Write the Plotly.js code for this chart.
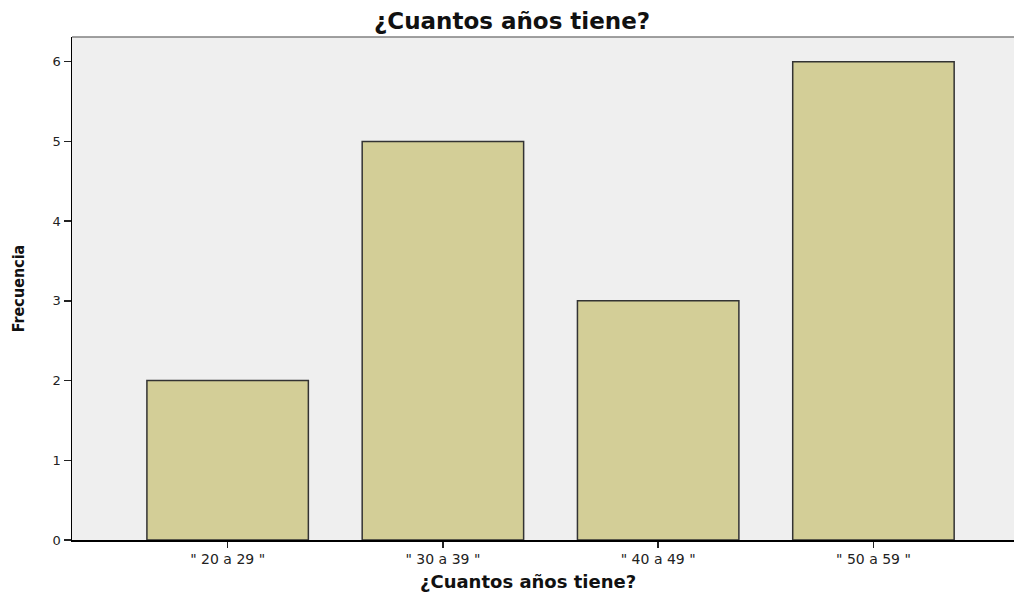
<!DOCTYPE html>
<html><head><meta charset="utf-8">
<script src="https://cdn.plot.ly/plotly-3.0.1.min.js"></script>
<style>html,body{margin:0;padding:0;background:#fff}</style>
</head><body>
<div id="chart" style="width:1014px;height:596px"></div>
<script>
const categories = ['" 20 a 29 "', '" 30 a 39 "', '" 40 a 49 "', '" 50 a 59 "'];
const frecuencia = [2, 5, 3, 6];
const yTicks = [0, 1, 2, 3, 4, 5, 6];
const titleText = '¿Cuantos años tiene?';

const trace = {
  type: 'bar',
  x: categories,
  y: frecuencia,
  width: 0.75,
  marker: {color: '#D3CE97', line: {color: '#333333', width: 1.5}},
  hoverinfo: 'x+y'
};

const layout = {
  width: 1014, height: 596,
  margin: {l: 72, r: 0, t: 37, b: 56},
  paper_bgcolor: '#ffffff',
  plot_bgcolor: '#EFEFEF',
  showlegend: false,
  title: {text: titleText, x: 0.505, xanchor: 'center', y: 0.965, yanchor: 'middle',
          font: {family: 'DejaVu Sans, sans-serif', size: 23, color: '#111', weight: 'bold'}},
  xaxis: {
    type: 'category',
    range: [-0.723, 3.653],
    showline: true, linecolor: '#000', linewidth: 1.5,
    ticks: 'outside', ticklen: 6, tickcolor: '#222', tickwidth: 1.5,
    tickfont: {family: 'DejaVu Sans, sans-serif', size: 14, color: '#222'},
    showgrid: false, zeroline: false
  },
  yaxis: {
    range: [0, 6.31],
    tickvals: yTicks,
    showline: true, linecolor: '#000', linewidth: 1.5,
    ticks: 'outside', ticklen: 7, tickcolor: '#222', tickwidth: 1.5,
    tickfont: {family: 'DejaVu Sans, sans-serif', size: 13, color: '#222'},
    showgrid: false, zeroline: false,
    title: {text: 'Frecuencia', standoff: 24,
            font: {family: 'Liberation Sans Narrow, DejaVu Sans Condensed, Arial Narrow, sans-serif', size: 16, color: '#111', weight: 'bold'}}
  },
  annotations: [
    {text: titleText, xref: 'paper', yref: 'paper', x: (528 - 72) / 942, y: -0.082,
     xanchor: 'center', yanchor: 'middle', showarrow: false,
     font: {family: 'DejaVu Sans, sans-serif', size: 18, color: '#111', weight: 'bold'}}
  ],
  shapes: [
    {type: 'line', xref: 'paper', yref: 'paper', x0: 0, x1: 1, y0: 1, y1: 1,
     line: {color: '#808080', width: 1.5}}
  ]
};

Plotly.newPlot('chart', [trace], layout, {displayModeBar: false, staticPlot: true});
</script>
</body></html>
